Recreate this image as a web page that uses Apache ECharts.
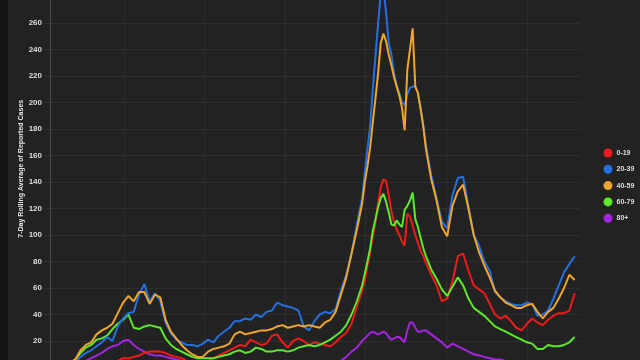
<!DOCTYPE html>
<html><head><meta charset="utf-8">
<script src="https://cdn.jsdelivr.net/npm/echarts@6/dist/echarts.min.js"></script>
<style>
html,body{margin:0;padding:0;background:#141414;width:640px;height:360px;overflow:hidden}
#c{position:absolute;left:8px;top:0;width:632px;height:360px;background:#222222}
</style></head><body><div id="c"></div>
<script>
const days = [18,24,30,36,42,48,54,60,66,72,78,84,90,96,102,108,114,120,126,132,138,144,150,156,162,168,174,180,186,192,198,204,210,216,222,228,234,240,246,252,258,264,270,276,282,288,294,300,306,312,318,324,330,336,342,348,354,
 360,363,366,369,372,375,378,381,384,387,390,393,396,399,402,405,408,411,414,417,420,423,426,429,432,
 438,444,450,456,462,468,474,480,486,492,498,504,510,516,522,528,534,540,546,552,558,564,570,576,582,588,594,600];

const seriesNames = ['0-19','20-39','40-59','60-79','80+'];

const age0_19 = [0,0,1,1,1,2,2,3,3,4, 4,5,7,7,8,9,11,12,12,12, 11,9,8,7,5,4,4,4,5,7, 9,11,13,15,17,16,21,19,17,18, 24,25,19,15,20,22,20,17,19,18, 17,16,19,23,26,33,46,
 58,66,77,87,99,110,124,136,142,141,130,118,110,104,100,95,92,116,114,107,100,94,88,84,79,
 70,62,50,52,65,84,86,73,62,59, 56,48,40,37,39,35,30,28,33,37, 34,32,36,39,41,41,43,56];

const age20_39 = [1,2,3,4,8,11,13,16,19,23, 20,31,37,41,42,55,63,50,56,50, 34,26,21,19,17,17,16,18,21,19, 24,27,30,35,35,37,36,40,38,42, 43,49,47,46,45,43,31,28,35,40, 42,41,44,58,70,86,108,
 128,147,165,182,210,235,260,282,286,268,245,236,222,213,207,200,198,206,211,212,212,207,196,183,168,
 145,128,110,105,130,143,144,122,100,92, 80,73,57,53,50,48,47,47,49,48, 39,40,43,52,62,72,78,84];

const age40_59 = [2,3,4,6,13,17,19,25,28,30, 33,41,49,54,50,57,57,48,55,53, 36,27,22,17,13,10,8,8,12,14, 15,16,18,25,27,25,26,27,28,28, 29,31,32,30,31,32,31,32,31,30, 34,36,42,55,68,86,104,
 124,140,152,166,185,203,222,245,252,246,236,228,219,212,205,196,179,225,240,256,212,207,195,182,165,
 142,126,106,99,122,133,138,120,100,87, 77,68,58,53,49,47,45,45,47,48, 42,37,42,45,52,60,70,66];

const age60_79 = [1,2,3,6,11,15,17,21,22,24, 29,33,36,40,30,29,31,32,31,30, 22,17,14,12,10,8,7,7,7,7, 8,9,10,12,13,11,12,15,14,12, 12,13,13,12,13,15,16,17,16,17, 19,21,24,27,32,40,50,
 62,71,80,90,103,112,121,128,131,125,117,108,107,111,108,106,119,122,126,132,112,106,98,90,84,
 74,67,59,54,61,68,62,52,45,42, 39,35,31,29,27,25,23,21,19,18, 14,14,17,16,16,17,19,23];

const age80plus = [0,1,1,2,3,5,7,9,11,14, 16,17,20,21,17,14,12,10,9,9, 8,7,6,5,4,3,3,3,2,2, 2,2,2,2,3,3,3,3,3,3, 3,3,3,3,3,3,3,3,3,3, 3,3,4,5,8,12,15,
 20,22,24,26,27,26,25,26,27,26,23,21,22,23,23,21,19,28,34,34,30,27,27,28,28,
 25,22,19,15,18,16,14,12,10,9, 8,7,6,6,5,5,5,4,4,4, 4,4,4,4,4,4,4,4];

const yTicks = [0,20,40,60,80,100,120,140,160,180,200,220,240,260,280,300];

const colors = {'0-19':'#f01a1a','20-39':'#2470e0','40-59':'#f0a52c','60-79':'#5ee82c','80+':'#a424e0'};
const valuesByName = {'0-19':age0_19,'20-39':age20_39,'40-59':age40_59,'60-79':age60_79,'80+':age80plus};
const drawOrder = ['80+','0-19','60-79','20-39','40-59'];

const chart = echarts.init(document.getElementById('c'), null, {renderer:'canvas'});
chart.setOption({
  backgroundColor:'#222222',
  animation:false,
  grid:{left:35.4, right:60, top:-30, bottom:-7.5, outerBoundsMode:'none', containLabel:false},
  legend:{
    orient:'vertical', left:590.5, top:143.5,
    data:seriesNames, icon:'circle', itemWidth:9, itemHeight:9, itemGap:7.3,
    textStyle:{color:'#dddddd', fontSize:7, fontFamily:'Liberation Sans', fontWeight:'bold', padding:[0,0,0,-1]}
  },
  xAxis:{
    type:'value', min:0, max:606, interval:91,
    axisLine:{show:false}, axisTick:{show:false}, axisLabel:{show:false},
    splitLine:{show:true, showMinLine:false, showMaxLine:false, lineStyle:{color:'#2e2e2e', width:1}}
  },
  yAxis:{
    type:'value', min:yTicks[0], max:yTicks[yTicks.length-1], interval:20, offset:-6.6,
    name:'7-Day Rolling Average of Reported Cases', nameLocation:'middle', nameGap:25, nameMoveOverlap:false,
    nameTextStyle:{color:'#e6e6e6', fontSize:7, fontWeight:'bold', fontFamily:'Liberation Sans'},
    axisLine:{show:true, lineStyle:{color:'#4a4a4a', width:1}},
    axisTick:{show:false},
    axisLabel:{color:'#dddddd', fontSize:8, fontFamily:'Liberation Sans', fontWeight:'bold', margin:8},
    splitLine:{show:true, lineStyle:{color:'#2e2e2e', width:1}}
  },
  series: drawOrder.map(n => ({
    name:n, type:'line', showSymbol:false, symbol:'none',
    data: days.map((d,i)=>[d, valuesByName[n][i]]),
    lineStyle:{color:colors[n], width:2},
    itemStyle:{color:colors[n]},
    emphasis:{disabled:true}
  }))
});
</script></body></html>
